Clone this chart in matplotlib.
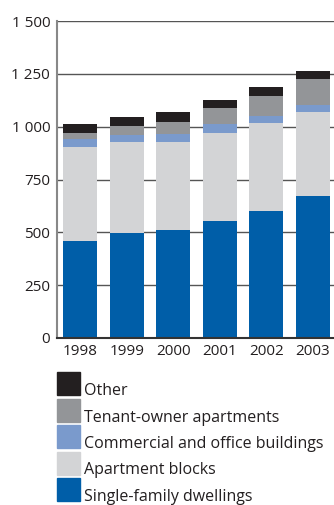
import matplotlib.pyplot as plt
from matplotlib.patches import Rectangle
from matplotlib.ticker import FuncFormatter
import numpy as np

plt.rcParams['font.family'] = ['Open Sans', 'DejaVu Sans']

years = ['1998', '1999', '2000', '2001', '2002', '2003']
single_family = [460, 497, 511, 554, 601, 672]
apartment_blocks = [444, 431, 417, 416, 416, 398]
commercial = [36, 33, 37, 43, 34, 31]
tenant_owner = [30, 42, 57, 75, 94, 125]
other = [43, 43, 48, 38, 43, 38]

names = ['Single-family dwellings', 'Apartment blocks',
         'Commercial and office buildings', 'Tenant-owner apartments', 'Other']
series = [single_family, apartment_blocks, commercial, tenant_owner, other]
colors = ['#005ea8', '#d3d4d6', '#7a9acc', '#939598', '#231f20']

fig = plt.figure(figsize=(3.34, 5.05), dpi=100)
ax = fig.add_axes([0.171, 0.3307, 0.829, 0.6277])

x = np.arange(len(years))
bottom = np.zeros(len(years))
for vals, c in zip(series, colors):
    ax.bar(x, vals, width=0.73, bottom=bottom, color=c, zorder=2)
    bottom += np.array(vals)

ax.set_ylim(0, 1500)
ax.set_xlim(-0.494, 5.45)
ax.set_yticks([0, 250, 500, 750, 1000, 1250, 1500])
ax.yaxis.set_major_formatter(FuncFormatter(lambda v, p: f'{int(v):,}'.replace(',', ' ')))
ax.set_xticks(x)
ax.set_xticklabels(years)
ax.grid(axis='y', color='#555555', linewidth=1.0, zorder=0)
ax.set_axisbelow(True)
ax.tick_params(length=0, labelsize=11, colors='#231f20', pad=5)
ax.tick_params(axis='x', pad=4)
for s in ['top', 'right']:
    ax.spines[s].set_visible(False)
ax.spines['left'].set_color('#888888')
ax.spines['left'].set_linewidth(1.5)
ax.spines['bottom'].set_color('#333333')
ax.spines['bottom'].set_linewidth(1.5)
ax.spines['bottom'].set_zorder(3)

# legend drawn by hand, top entry first
W, H = 334, 505
for i, (name, c) in enumerate(zip(names[::-1], colors[::-1])):
    top = 372 + i * 26.5
    fig.add_artist(Rectangle((57 / W, 1 - (top + 23) / H), 23 / W, 23 / H,
                             transform=fig.transFigure, color=c))
    fig.text(84 / W, 1 - (top + 23) / H, name, fontsize=11.5,
             color='#231f20', va='baseline', ha='left')

fig.savefig('out.png', dpi=100)
